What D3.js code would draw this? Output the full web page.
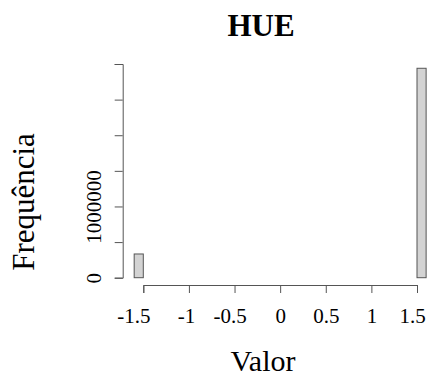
<!DOCTYPE html>
<html lang="pt">
<head>
<meta charset="utf-8">
<title>HUE</title>
<script src="https://cdn.jsdelivr.net/npm/d3@7"></script>
<style>
  body { margin: 0; background: #fff; }
  svg text { font-family: "Liberation Serif", "DejaVu Serif", serif; fill: #000; }
</style>
</head>
<body>
<script>
// histogram bins (width 0.1) and counts
var binStarts = [-1.6, -1.5, -1.4, -1.3, -1.2, -1.1, -1.0, -0.9, -0.8, -0.7, -0.6, -0.5, -0.4, -0.3, -0.2, -0.1,
                 0.0, 0.1, 0.2, 0.3, 0.4, 0.5, 0.6, 0.7, 0.8, 0.9, 1.0, 1.1, 1.2, 1.3, 1.4, 1.5];
var counts = [333000, 0, 0, 0, 0, 0, 0, 0, 0, 0, 0, 0, 0, 0, 0, 0,
              0, 0, 0, 0, 0, 0, 0, 0, 0, 0, 0, 0, 0, 0, 0, 2940000];
var binWidth = 0.1;
var xTicks = [-1.5, -1, -0.5, 0, 0.5, 1, 1.5];
var yTicks = [0, 500000, 1000000, 1500000, 2000000, 2500000, 3000000];
var yLabelled = [0, 1000000];

var width = 429, height = 376;

var x = d3.scaleLinear().domain([-1.5, 1.5]).range([143.3, 417]);
var y = d3.scaleLinear().domain([0, 3000000]).range([277.7, 64]);

var svg = d3.select("body").append("svg")
    .attr("width", width)
    .attr("height", height);

// bars
svg.append("g")
  .selectAll("rect")
  .data(binStarts)
  .enter().append("rect")
  .attr("x", function(d){ return x(d); })
  .attr("width", function(d){ return x(d + binWidth) - x(d); })
  .attr("y", function(d, i){ return y(counts[i]); })
  .attr("height", function(d, i){ return y(0) - y(counts[i]); })
  .attr("fill", "#d3d3d3")
  .attr("stroke", "#555")
  .attr("stroke-width", 1);

// x axis
var xAxis = svg.append("g")
  .attr("transform", "translate(0,285)")
  .call(d3.axisBottom(x).tickValues(xTicks).tickSize(8)
        .tickFormat(function(d){ return String(d); }));
xAxis.select(".domain").attr("stroke", "#555");
xAxis.selectAll(".tick line").attr("stroke", "#555");
// labels sit a little off their ticks in the picture
var labelShift = { "-1.5": -10, "-1": -3, "-0.5": -5, "1.5": -5 };
xAxis.selectAll(".tick text")
  .style("font-size", "21px")
  .attr("fill", "#000")
  .attr("y", 38)
  .attr("dy", 0)
  .attr("dx", function(d){ return labelShift[String(d)] || 0; });

// y axis
var yAxis = svg.append("g")
  .attr("transform", "translate(122.7,0)")
  .call(d3.axisLeft(y).tickValues(yTicks).tickSize(8)
        .tickFormat(function(d){ return yLabelled.indexOf(d) >= 0 ? String(d) : ""; }));
yAxis.select(".domain").attr("stroke", "#555");
yAxis.selectAll(".tick line").attr("stroke", "#555");
yAxis.selectAll(".tick text")
  .style("font-size", "21px")
  .attr("fill", "#000")
  .attr("text-anchor", "middle")
  .attr("transform", "rotate(-90)")
  .attr("x", 0)
  .attr("dy", 0)
  .attr("y", -22);

// title
svg.append("text")
  .attr("x", 261).attr("y", 36)
  .attr("text-anchor", "middle")
  .style("font-size", "31px")
  .style("font-weight", "bold")
  .text("HUE");

// axis titles
svg.append("text")
  .attr("x", 263).attr("y", 371)
  .attr("text-anchor", "middle")
  .style("font-size", "30px")
  .text("Valor");

svg.append("text")
  .attr("transform", "translate(34,202) rotate(-90)")
  .attr("text-anchor", "middle")
  .style("font-size", "31px")
  .text("Frequência");
</script>
</body>
</html>
